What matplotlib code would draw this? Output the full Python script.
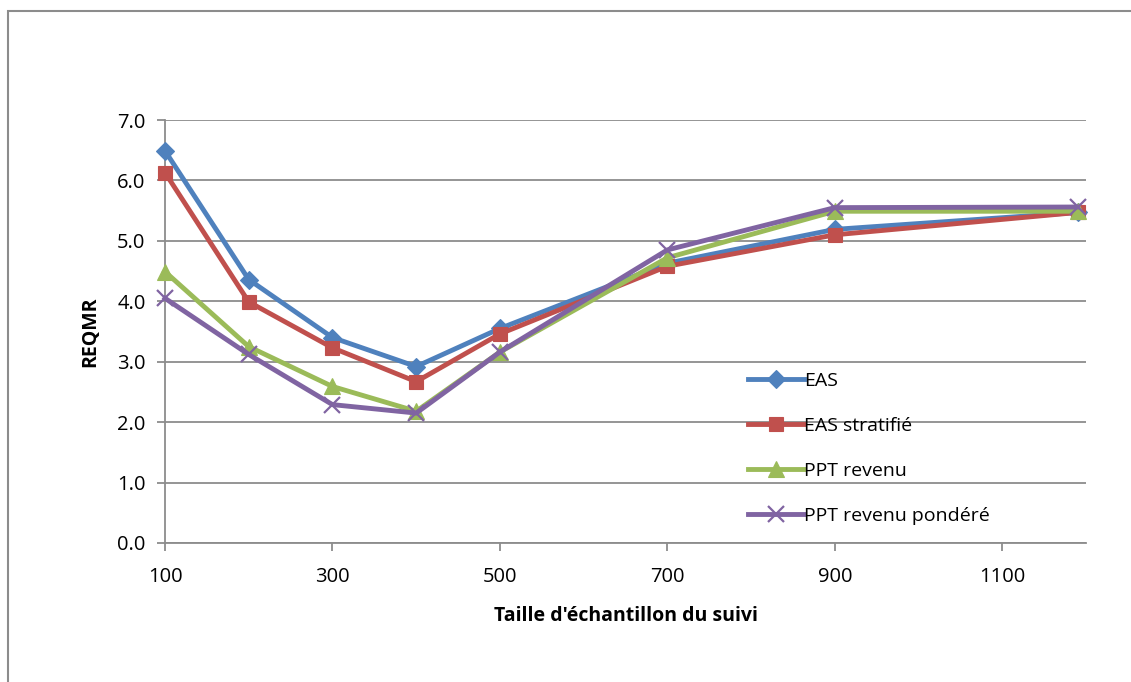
import matplotlib
import matplotlib.pyplot as plt
from matplotlib.patches import Rectangle

matplotlib.use("Agg")

# 数据
sizes = [100, 200, 300, 400, 500, 700, 900, 1190]
eas = [6.49, 4.36, 3.40, 2.92, 3.55, 4.63, 5.19, 5.47]
eas_strat = [6.13, 3.99, 3.23, 2.67, 3.46, 4.58, 5.10, 5.47]
ppt_revenu = [4.49, 3.25, 2.59, 2.18, 3.16, 4.72, 5.49, 5.49]
ppt_pondere = [4.05, 3.12, 2.29, 2.15, 3.16, 4.85, 5.55, 5.56]
labels = ["EAS", "EAS stratifié", "PPT revenu", "PPT revenu pondéré"]
x_ticks = [100, 300, 500, 700, 900, 1100]
y_ticks = [0, 1, 2, 3, 4, 5, 6, 7]

plt.rcParams["font.family"] = ["Open Sans", "DejaVu Sans"]

colors = ["#4F81BD", "#C0504D", "#9BBB59", "#8064A2"]
markers = ["D", "s", "^", "x"]
msizes = [9, 10.5, 11, 12]

fig = plt.figure(figsize=(11.31, 6.82), dpi=100)
ax = fig.add_axes([165 / 1131, 1 - 543 / 682, (1086 - 165) / 1131, (543 - 120) / 682])

series = [eas, eas_strat, ppt_revenu, ppt_pondere]
for vals, lab, c, m, ms in zip(series, labels, colors, markers, msizes):
    ax.plot(sizes, vals, color=c, lw=3.5, marker=m, ms=ms, label=lab,
            markeredgecolor=c, markeredgewidth=1.6 if m == "x" else 0.8,
            clip_on=False, zorder=3)

ax.set_xlim(100, 1200)
ax.set_ylim(0, 7)
ax.set_xticks(x_ticks)
ax.set_yticks(y_ticks)
ax.set_yticklabels([f"{v:.1f}" for v in y_ticks])
ax.grid(axis="y", color="#8c8c8c", lw=1.3)
ax.set_axisbelow(True)
for s in ["top", "right"]:
    ax.spines[s].set_visible(False)
for s in ["left", "bottom"]:
    ax.spines[s].set_color("#8c8c8c")
    ax.spines[s].set_linewidth(1.3)
ax.tick_params(axis="both", colors="#8c8c8c", length=6, width=1.3, labelsize=14.5,
               labelcolor="black")
ax.tick_params(axis="x", pad=11)
ax.tick_params(axis="y", pad=8)

ax.set_xlabel("Taille d'échantillon du suivi", fontsize=14, fontweight="bold", labelpad=14)
ax.set_ylabel("REQMR", fontsize=14, fontweight="bold", labelpad=12)

leg = ax.legend(loc="upper left", bbox_to_anchor=(0.625, 0.422), frameon=False,
                fontsize=14, handlelength=2.85, handletextpad=0.0, labelspacing=1.38,
                borderaxespad=0)

fig.patches.append(Rectangle((8 / 1131, -0.1), 1.2, 1.1 - 11 / 682,
                             transform=fig.transFigure, fill=False,
                             edgecolor="#8c8c8c", lw=1.5))

fig.savefig("out.png", dpi=100)
